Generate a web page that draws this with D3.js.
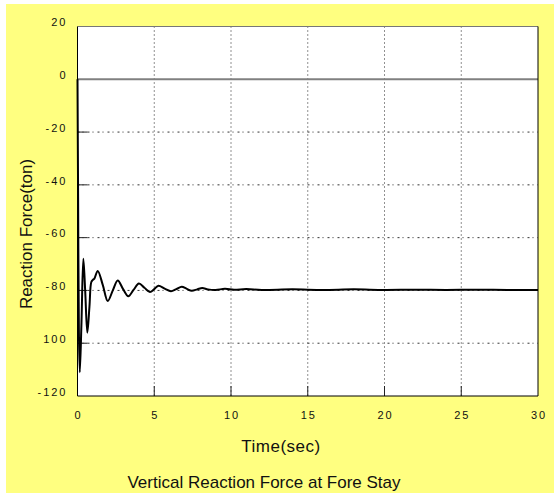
<!DOCTYPE html>
<html>
<head>
<meta charset="utf-8">
<script src="https://cdn.jsdelivr.net/npm/d3@7"></script>
<style>
  body { margin: 0; background: #ffffff; }
  text { font-family: "Liberation Sans", Arial, sans-serif; fill: #111; }
</style>
</head>
<body>
<div id="chart"></div>
<script>
// time (sec) and vertical reaction force (ton)
let times = [0, 0.04, 0.09, 0.15, 0.26, 0.38, 0.5, 0.64, 0.78, 0.9, 1.0, 1.1, 1.32, 1.65, 1.97, 2.3, 2.62, 2.97, 3.31, 3.65, 4.0, 4.36, 4.72, 5.0, 5.27, 5.68, 6.09, 6.44, 6.79, 7.12, 7.44, 7.8, 8.13, 8.5, 9.0, 9.6, 10.2, 11, 12, 14, 16, 18, 20, 22, 24, 26, 28, 30];
let forces = [0, -45, -95, -111, -92, -68, -80, -96, -86, -76.8, -76, -75.5, -72.6, -78, -84, -80, -76.2, -79.5, -82.2, -79.8, -77.4, -79, -80.6, -79.5, -78.2, -79.3, -80.3, -79.5, -78.6, -79.4, -80.1, -79.6, -79.1, -79.6, -79.8, -79.4, -79.7, -79.5, -79.8, -79.6, -79.8, -79.6, -79.8, -79.7, -79.8, -79.7, -79.8, -79.8];

let xTicks = [0, 5, 10, 15, 20, 25, 30];
let yTicks = [20, 0, -20, -40, -60, -80, -100, -120];
let yTickLabels = ["20", "0", "-20", "-40", "-60", "-80", "100", "-120"];

let width = 554, height = 494;
let margin = {top: 26.5, right: 16, bottom: 98, left: 77.5};
let plotW = width - margin.left - margin.right;
let plotH = height - margin.top - margin.bottom;

let svg = d3.select("#chart")
    .append("svg")
    .attr("width", width)
    .attr("height", height);

// yellow backdrop
svg.append("rect")
    .attr("x", 6).attr("y", 4)
    .attr("width", width - 6).attr("height", height - 5)
    .attr("fill", "#ffff80");

let g = svg.append("g")
    .attr("transform", `translate(${margin.left},${margin.top})`);

let x = d3.scaleLinear().domain([0, 30]).range([0, plotW]);
let y = d3.scaleLinear().domain([-120, 20]).range([plotH, 0]);

g.append("rect")
    .attr("width", plotW).attr("height", plotH)
    .attr("fill", "#ffffff");

// vertical dotted grid
g.selectAll(".vgrid")
    .data(xTicks.filter(d => d > 0 && d < 30))
    .enter().append("line")
    .attr("x1", d => x(d)).attr("x2", d => x(d))
    .attr("y1", 0).attr("y2", plotH)
    .attr("stroke", "#222")
    .attr("stroke-dasharray", "1,3");

// horizontal dash-dot grid
g.selectAll(".hgrid")
    .data(yTicks.filter(d => d < 0 && d > -120))
    .enter().append("line")
    .attr("x1", 0).attr("x2", plotW)
    .attr("y1", d => y(d)).attr("y2", d => y(d))
    .attr("stroke", "#333")
    .attr("stroke-dasharray", "2,3,1,4");

// zero line
g.append("line")
    .attr("x1", 0).attr("x2", plotW)
    .attr("y1", y(0)).attr("y2", y(0))
    .attr("stroke", "#808080")
    .attr("stroke-width", 2);

// short inward ticks
g.selectAll(".xtick")
    .data(xTicks.filter(d => d > 0 && d < 30))
    .enter().append("line")
    .attr("x1", d => x(d)).attr("x2", d => x(d))
    .attr("y1", plotH).attr("y2", plotH - 10)
    .attr("stroke", "#222");

g.selectAll(".ytick")
    .data(yTicks.filter(d => d < 0 && d > -120))
    .enter().append("line")
    .attr("x1", 0).attr("x2", 10)
    .attr("y1", d => y(d)).attr("y2", d => y(d))
    .attr("stroke", "#222");

// frame
g.append("line").attr("x1", 0).attr("x2", plotW).attr("y1", 0).attr("y2", 0)
    .attr("stroke", "#777");
g.append("line").attr("x1", 0).attr("x2", 0).attr("y1", 0).attr("y2", plotH)
    .attr("stroke", "#000");
g.append("line").attr("x1", plotW).attr("x2", plotW).attr("y1", 0).attr("y2", plotH)
    .attr("stroke", "#000");
g.append("line").attr("x1", 0).attr("x2", plotW).attr("y1", plotH).attr("y2", plotH)
    .attr("stroke", "#000");

// trace
let data = times.map((t, i) => ({t: t, f: forces[i]}));
let line = d3.line()
    .x(d => x(d.t))
    .y(d => y(d.f))
    .curve(d3.curveCatmullRom.alpha(0.5));

g.append("path")
    .datum(data)
    .attr("fill", "none")
    .attr("stroke", "#000")
    .attr("stroke-width", 2)
    .attr("d", line);

// tick labels
g.selectAll(".ylab")
    .data(yTicks)
    .enter().append("text")
    .attr("x", -10)
    .attr("y", d => y(d) - 4)
    .attr("dy", "0.35em")
    .style("text-anchor", "end")
    .style("font-size", "11px")
    .style("letter-spacing", "2px")
    .text((d, i) => yTickLabels[i]);

g.selectAll(".xlab")
    .data(xTicks)
    .enter().append("text")
    .attr("x", d => x(d) + 1)
    .attr("y", plotH + 19)
    .attr("dy", "0.35em")
    .style("text-anchor", "middle")
    .style("font-size", "11px")
    .style("letter-spacing", "2px")
    .text(d => d);

// axis titles
svg.append("text")
    .attr("transform", `translate(${281}, ${452})`)
    .style("text-anchor", "middle")
    .style("font-size", "17px")
    .style("letter-spacing", "0.5px")
    .text("Time(sec)");

svg.append("text")
    .attr("transform", `translate(${32}, ${234}) rotate(-90)`)
    .style("text-anchor", "middle")
    .style("font-size", "17px")
    .text("Reaction Force(ton)");

svg.append("text")
    .attr("transform", `translate(${264}, ${488})`)
    .style("text-anchor", "middle")
    .style("font-size", "17px")
    .text("Vertical Reaction Force at Fore Stay");
</script>
</body>
</html>
